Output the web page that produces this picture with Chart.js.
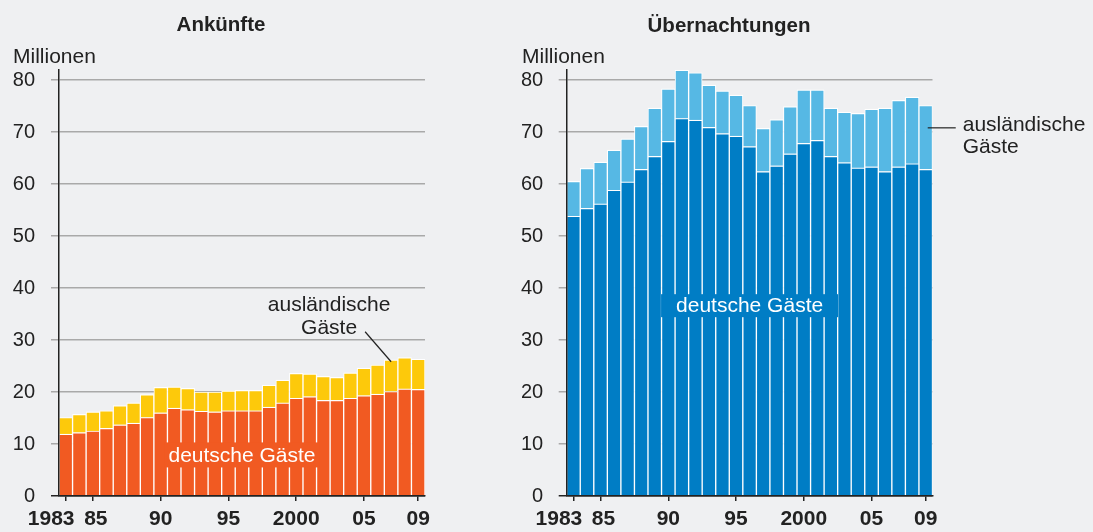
<!DOCTYPE html>
<html>
<head>
<meta charset="utf-8">
<script src="https://cdn.jsdelivr.net/npm/chart.js@4.4.1/dist/chart.umd.min.js"></script>
<style>
  body { margin: 0; background: #eff0f2; width: 1093px; height: 532px; overflow: hidden; position: relative; }
  canvas { position: absolute; top: 0; }
  #arrivalsChart { left: 0; }
  #nightsChart { left: 500px; }
</style>
</head>
<body>
<canvas id="arrivalsChart" width="500" height="532"></canvas>
<canvas id="nightsChart" width="593" height="532"></canvas>
<script>
// Categories and axis labels
const years = ['1983','1984','1985','1986','1987','1988','1989','1990','1991','1992','1993','1994','1995',
  '1996','1997','1998','1999','2000','2001','2002','2003','2004','2005','2006','2007','2008','2009'];
const tickYears = ['1983','1985','1990','1995','2000','2005','2009'];
const tickLabels = ['1983','85','90','95','2000','05','09'];
const yTickValues = [0, 10, 20, 30, 40, 50, 60, 70, 80];

// Ankünfte (Mio.)
const arrivalsGerman = [11.9,12.2,12.5,13.0,13.7,14.0,15.1,16.0,16.9,16.6,16.3,16.2,16.4,16.4,16.4,17.1,17.9,18.8,19.1,18.4,18.4,18.8,19.3,19.6,20.1,20.6,20.5];
const arrivalsForeign = [3.2,3.5,3.7,3.4,3.7,3.9,4.4,4.9,4.1,4.1,3.7,3.8,3.8,3.9,3.9,4.2,4.4,4.8,4.4,4.6,4.4,4.9,5.3,5.6,6.1,6.0,5.8];

// Übernachtungen (Mio.)
const nightsGerman = [53.8,55.3,56.2,58.8,60.4,62.8,65.3,68.2,72.6,72.3,70.9,69.7,69.2,67.2,62.4,63.5,65.8,67.8,68.4,65.3,64.1,63.1,63.3,62.4,63.3,63.9,62.8];
const nightsForeign = [6.7,7.7,8.0,7.7,8.3,8.3,9.3,10.1,9.3,9.1,8.1,8.2,7.9,7.9,8.3,8.9,9.1,10.3,9.7,9.3,9.7,10.5,11.1,12.2,12.8,12.8,12.3];

const FONT = '"Liberation Sans", Arial, sans-serif';
const INK = '#222222';
Chart.defaults.font.family = FONT;
Chart.defaults.color = INK;

// Titles, unit label and the in-chart notes
const notesPlugin = {
  id: 'notes',
  afterDatasetsDraw(chart, args, o) {
    const ctx = chart.ctx;
    const x = chart.scales.x, y = chart.scales.y;
    const area = chart.chartArea;
    ctx.save();

    ctx.fillStyle = INK;
    ctx.font = 'bold 20.5px ' + FONT;
    ctx.textAlign = 'center';
    ctx.textBaseline = 'alphabetic';
    ctx.fillText(o.title, o.titleX, o.titleY);
    ctx.font = '21px ' + FONT;
    ctx.textAlign = 'left';
    ctx.fillText('Millionen', o.unitX, 63);

    // "deutsche Gäste" on a box of bar colour
    const cx = (area.left + area.right) / 2;
    const cy = y.getPixelForValue(o.inner.value);
    const w = ctx.measureText(o.inner.text).width + o.inner.padX * 2;
    ctx.fillStyle = o.inner.color;
    ctx.fillRect(cx - w / 2, cy - o.inner.h / 2, w, o.inner.h);
    ctx.fillStyle = '#ffffff';
    ctx.textAlign = 'center';
    ctx.textBaseline = 'middle';
    ctx.fillText(o.inner.text, cx, cy + 1);

    // "ausländische Gäste" with leader line
    const n = o.outer;
    const bx = x.getPixelForValue(n.index);
    ctx.strokeStyle = INK;
    ctx.lineWidth = 1.2;
    ctx.fillStyle = INK;
    ctx.beginPath();
    if (n.side === 'above') {
      const top = y.getPixelForValue(n.value);
      ctx.moveTo(bx - 26, top - 28);
      ctx.lineTo(bx, top + 2);
      ctx.stroke();
      ctx.textAlign = 'center';
      ctx.fillText('ausländische', bx - 62, top - 55);
      ctx.fillText('Gäste', bx - 62, top - 32);
    } else {
      const ly = y.getPixelForValue(n.value);
      ctx.moveTo(bx + 2, ly);
      ctx.lineTo(bx + 30, ly);
      ctx.stroke();
      ctx.textAlign = 'left';
      ctx.fillText('ausländische', bx + 37, ly - 3);
      ctx.fillText('Gäste', bx + 37, ly + 19);
    }
    ctx.restore();
  }
};

function makeChart(id, german, foreign, colors, layout, notes) {
  const border = { top: 1.2, left: 1, right: 1, bottom: 0 };
  return new Chart(document.getElementById(id), {
    type: 'bar',
    data: {
      labels: years,
      datasets: [
        { label: 'deutsche Gäste', data: german, backgroundColor: colors[0],
          borderColor: '#ffffff', borderWidth: border },
        { label: 'ausländische Gäste', data: foreign, backgroundColor: colors[1],
          borderColor: '#ffffff', borderWidth: border }
      ]
    },
    options: {
      responsive: false,
      animation: false,
      layout: { padding: { top: 69.6, right: layout.right, left: 0, bottom: 0 } },
      datasets: { bar: { barPercentage: 1, categoryPercentage: 1 } },
      plugins: {
        legend: { display: false },
        tooltip: { enabled: false },
        notes: notes
      },
      scales: {
        x: {
          stacked: true,
          offset: true,
          afterFit: (s) => { s.height = 36; },
          border: { color: INK, width: 1.5, z: 1 },
          grid: {
            offset: false,
            drawOnChartArea: false,
            tickLength: 5,
            lineWidth: 1.5,
            color: (c) => tickYears.includes(years[c.index]) ? INK : 'rgba(0,0,0,0)'
          },
          ticks: {
            autoSkip: false,
            maxRotation: 0,
            padding: 6,
            font: { size: 21, weight: 'bold' },
            color: INK,
            callback: (v, i) => {
              const k = tickYears.indexOf(years[i]);
              if (k < 0) return '';
              if (k === 0) return tickLabels[k] + '     ';
              if (k === 1) return ' ' + tickLabels[k];
              return tickLabels[k];
            }
          }
        },
        y: {
          stacked: true,
          min: 0,
          max: 82,
          afterFit: (s) => { s.width = layout.axisWidth; },
          afterBuildTicks: (s) => { s.ticks = yTickValues.map(v => ({ value: v })); },
          border: { color: INK, width: 1.5, z: 1 },
          grid: {
            tickLength: 8,
            lineWidth: 1.5,
            color: (c) => c.tick && c.tick.value === 0 ? INK : '#a9a9a9'
          },
          ticks: {
            padding: layout.tickPad,
            font: { size: 20 },
            color: INK
          }
        }
      }
    },
    plugins: [notesPlugin]
  });
}

makeChart('arrivalsChart', arrivalsGerman, arrivalsForeign, ['#f15a22', '#fdc90b'],
  { right: 75, axisWidth: 59, tickPad: 16 },
  {
    title: 'Ankünfte', titleX: 221, titleY: 31, unitX: 13,
    inner: { text: 'deutsche Gäste', value: 7.9, padX: 4, h: 25, color: '#f15a22' },
    outer: { side: 'above', index: 24, value: arrivalsGerman[24] + arrivalsForeign[24] }
  });

makeChart('nightsChart', nightsGerman, nightsForeign, ['#007dc5', '#56b8e4'],
  { right: 160.5, axisWidth: 66.7, tickPad: 15.5 },
  {
    title: 'Übernachtungen', titleX: 229, titleY: 32, unitX: 22,
    inner: { text: 'deutsche Gäste', value: 36.6, padX: 15, h: 23, color: '#007dc5' },
    outer: { side: 'right', index: 26, value: 70.8 }
  });
</script>
</body>
</html>
